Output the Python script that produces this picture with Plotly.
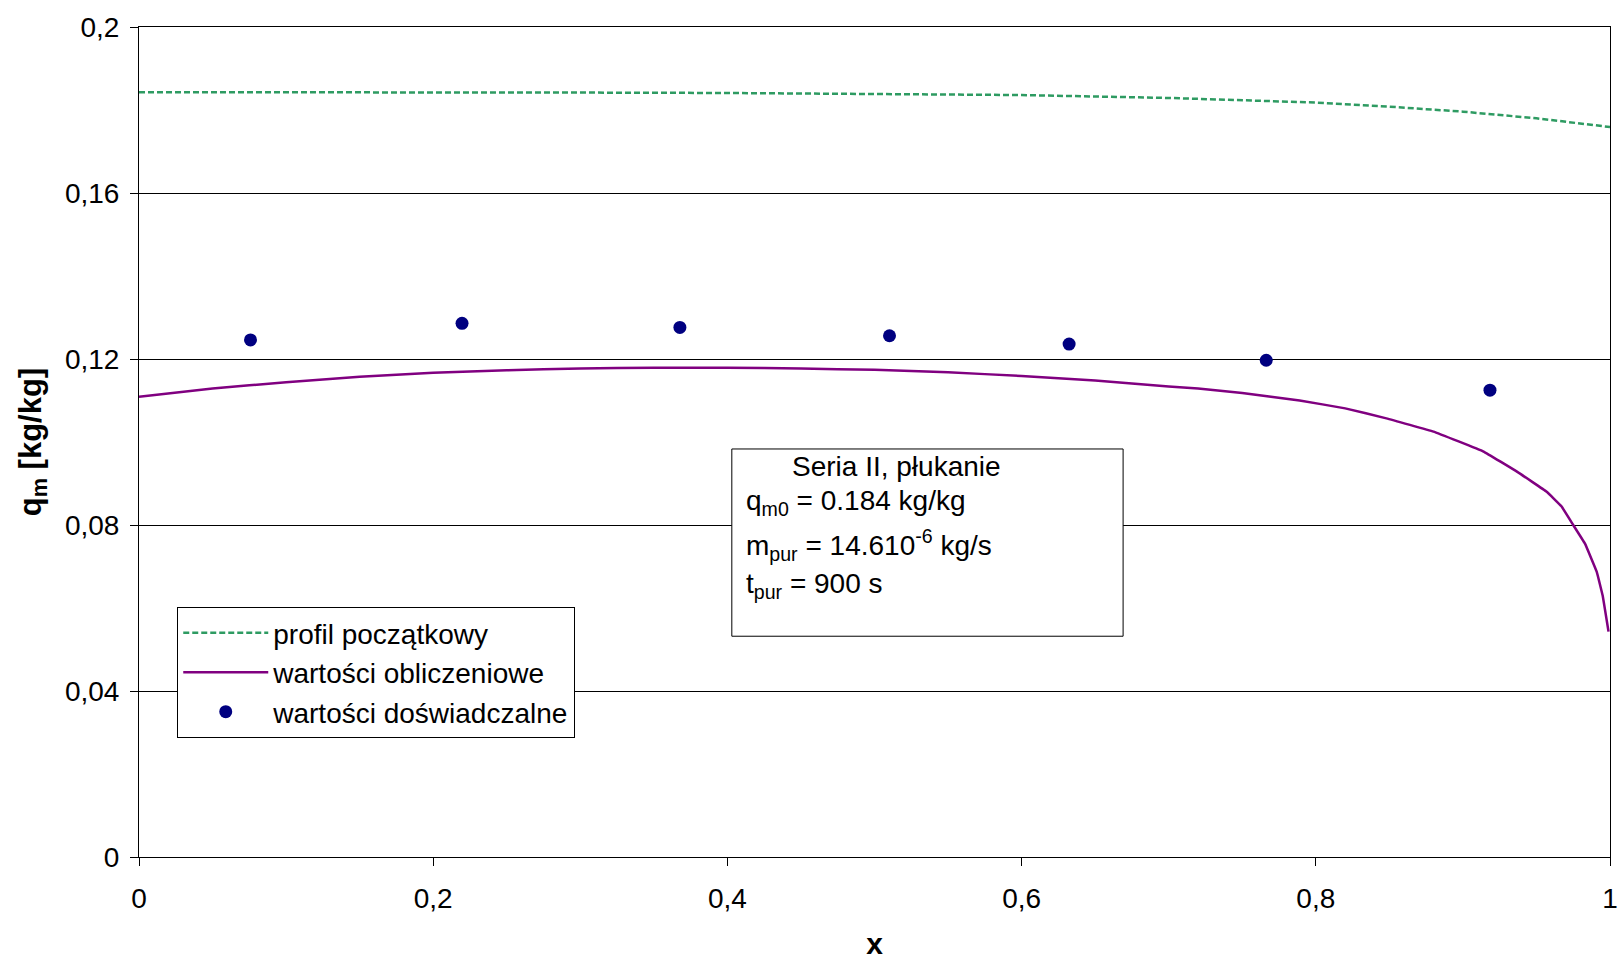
import plotly.graph_objects as go

# Data
x_init = [0.0, 0.1, 0.2, 0.3, 0.4, 0.5, 0.6, 0.7, 0.75, 0.8, 0.85, 0.9, 0.95, 1.0]
q_init = [0.1843, 0.1843, 0.1843, 0.1842, 0.1841, 0.1839, 0.1836, 0.1829, 0.1824, 0.1818, 0.1808, 0.1796, 0.1780, 0.1759]

x_calc = [0.0, 0.05, 0.1, 0.15, 0.2, 0.25, 0.3, 0.35, 0.4, 0.45, 0.5, 0.55, 0.6, 0.65, 0.7, 0.72, 0.75,
          0.789, 0.82, 0.848, 0.88, 0.914, 0.937, 0.957, 0.967, 0.975, 0.983, 0.991, 0.995, 0.999]
q_calc = [0.1109, 0.1129, 0.1144, 0.1157, 0.1167, 0.1173, 0.1177, 0.1179, 0.1179, 0.1177, 0.1174, 0.1168,
          0.1159, 0.1148, 0.1134, 0.1129, 0.1118, 0.1100, 0.1081, 0.1057, 0.1025, 0.0977, 0.0928, 0.0880,
          0.0845, 0.0800, 0.0755, 0.0687, 0.0630, 0.0543]

x_exp = [0.0758, 0.2196, 0.3677, 0.5102, 0.6323, 0.7663, 0.9184]
q_exp = [0.1246, 0.1286, 0.1276, 0.1256, 0.1236, 0.1197, 0.1125]

y_ticks = [0, 0.04, 0.08, 0.12, 0.16, 0.2]
y_labels = ["0", "0,04", "0,08", "0,12", "0,16", "0,2"]
x_ticks = [0, 0.2, 0.4, 0.6, 0.8, 1]
x_labels = ["0", "0,2", "0,4", "0,6", "0,8", "1"]

FONT = "Liberation Sans, Arial, sans-serif"
FS = 28

fig = go.Figure()
fig.add_trace(go.Scatter(x=x_init, y=q_init, mode="lines", name="profil początkowy",
                         line=dict(color="#2E9B62", width=2.5, dash="6px,3px")))
fig.add_trace(go.Scatter(x=x_calc, y=q_calc, mode="lines", name="wartości obliczeniowe",
                         line=dict(color="#800080", width=2.5, shape="spline", smoothing=0.2)))
fig.add_trace(go.Scatter(x=x_exp, y=q_exp, mode="markers", name="wartości doświadczalne",
                         marker=dict(color="#000080", size=13)))

fig.update_layout(
    width=1618, height=960,
    margin=dict(l=139, r=8, t=27, b=103),
    plot_bgcolor="white", paper_bgcolor="white",
    font=dict(family=FONT, size=FS, color="black"),
    showlegend=True,
    legend=dict(x=0.026, y=0.301, xanchor="left", yanchor="top",
                bgcolor="white", bordercolor="black", borderwidth=1,
                font=dict(size=FS), itemwidth=85, tracegroupgap=0),
    xaxis=dict(range=[0, 1], tickvals=x_ticks, ticktext=x_labels, automargin=False,
               showgrid=False, zeroline=False, showline=True, linecolor="black", linewidth=1,
               mirror=True, ticks="outside", ticklen=8, tickcolor="black",
               ticklabelstandoff=8, tickfont=dict(size=FS),
               title=dict(text="<b>x</b>", font=dict(size=30), standoff=22)),
    yaxis=dict(range=[0, 0.2], tickvals=y_ticks, ticktext=y_labels, automargin=False,
               showgrid=True, gridcolor="black", gridwidth=1, zeroline=False,
               showline=True, linecolor="black", linewidth=1, mirror=True,
               ticks="outside", ticklen=8, tickcolor="black",
               ticklabelstandoff=5, tickfont=dict(size=FS),
               title=dict(text="<b>q<sub>m</sub> [kg/kg]</b>", font=dict(size=31), standoff=14)),
)

# Info box
fig.add_shape(type="rect", xref="paper", yref="paper", x0=0.403, x1=0.669, y0=0.266, y1=0.4916,
              line=dict(color="black", width=1), fillcolor="white", layer="above")

def ypaper(py):
    return (857 - py) / 830

def xpaper(px):
    return (px - 139) / 1471

fig.add_annotation(xref="paper", yref="paper", x=xpaper(896), y=ypaper(466), text="Seria II, płukanie",
                   showarrow=False, xanchor="center", yanchor="middle", font=dict(size=FS))
fig.add_annotation(xref="paper", yref="paper", x=xpaper(744), y=ypaper(503), text="q<sub>m0</sub> = 0.184 kg/kg",
                   showarrow=False, xanchor="left", yanchor="middle", font=dict(size=FS))
fig.add_annotation(xref="paper", yref="paper", x=xpaper(744), y=ypaper(545),
                   text="m<sub>pur</sub> = 14.610<sup>-6</sup> kg/s",
                   showarrow=False, xanchor="left", yanchor="middle", font=dict(size=FS))
fig.add_annotation(xref="paper", yref="paper", x=xpaper(744), y=ypaper(585), text="t<sub>pur</sub> = 900 s",
                   showarrow=False, xanchor="left", yanchor="middle", font=dict(size=FS))

fig.write_html("out.html")
